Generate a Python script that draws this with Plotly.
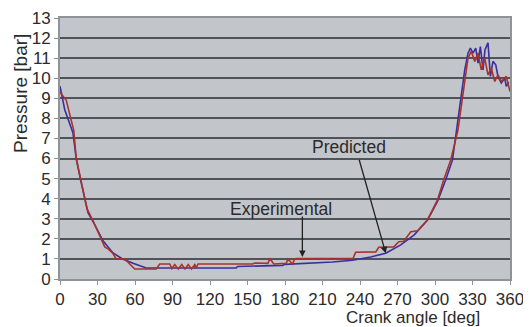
import plotly.graph_objects as go

# Predicted (blue)
pred_x = [0, 3.8, 10.4, 13, 16.6, 22.4, 27, 30, 34.4, 42.4, 50, 58.4, 69, 100, 141, 142,
          178, 180, 202, 218, 234, 248.6, 260.6, 272.6, 283.4, 294, 302, 308.6, 314,
          319.8, 323.8, 326.4, 328.3, 330.4, 332.6, 334.4, 336.3, 338.4, 340, 342.4,
          344.3, 346.4, 348.6, 350.4, 353, 355.8, 357, 359]
pred_y = [9.6, 8.43, 7.27, 6.0, 4.9, 3.3, 2.8, 2.4, 1.9, 1.3, 1.0, 0.78, 0.55, 0.55, 0.55, 0.62,
          0.68, 0.73, 0.78, 0.85, 0.93, 1.1, 1.28, 1.7, 2.2, 2.94, 3.86, 4.94, 5.93,
          8.76, 10.42, 11.25, 11.5, 11.25, 11.5, 10.75, 11.58, 10.42, 11.42, 11.76,
          10.09, 10.84, 10.67, 10.09, 9.76, 10.0, 9.59, 9.8]

# Experimental (red)
exp_x = [0, 5, 8.6, 11, 13, 16.6, 21.6, 26.4, 30, 33, 35.8, 38.4, 42, 45, 51.8, 55, 59.8,
         77, 79.8, 87.8, 89.5, 91.8, 94.6, 97.4, 100, 102.6, 105.2, 107.8, 109, 110.4,
         154, 156, 166.4, 167.8, 171, 181, 182.4, 186, 187.8, 189, 234.4, 236.5, 252.6,
         255, 267, 271, 275, 280.6, 286, 294, 302, 307, 312.6, 318.4, 323.8, 326.4, 329,
         331.8, 334.4, 337, 339.8, 342.4, 345, 347.8, 350.4, 353, 357, 360]
exp_y = [9.3, 8.9, 8.0, 7.4, 6.0, 4.9, 3.5, 2.9, 2.4, 2.0, 1.6, 1.5, 1.3, 1.0, 1.0, 0.8, 0.5,
         0.5, 0.75, 0.75, 0.52, 0.72, 0.5, 0.72, 0.5, 0.72, 0.5, 0.72, 0.55, 0.75,
         0.75, 0.8, 0.78, 1.03, 0.75, 0.78, 1.0, 0.75, 1.0, 1.02, 1.02, 1.33, 1.35,
         1.58, 1.6, 1.86, 1.88, 2.35, 2.4, 2.94, 3.94, 4.94, 5.93, 7.43, 9.93, 11.0, 11.34,
         10.84, 11.25, 10.42, 11.0, 10.17, 10.5, 9.84, 10.17, 9.84, 10.09, 9.34]

x_ticks = list(range(0, 361, 30))
y_ticks = list(range(0, 14))

FONT = "Liberation Sans, Arial, sans-serif"
TXT = "#2b2b2b"

fig = go.Figure()
fig.add_trace(go.Scatter(x=pred_x, y=pred_y, mode="lines", name="Predicted",
                         line=dict(color="#3b2f9e", width=1.6)))
fig.add_trace(go.Scatter(x=exp_x, y=exp_y, mode="lines", name="Experimental",
                         line=dict(color="#a8322e", width=1.6)))

# page body has an 8px margin: figure is 523x319 placed at (8, 8)
fig.update_layout(
    template="none",
    width=523, height=319,
    autosize=False,
    margin=dict(l=52, r=21, t=10, b=48, pad=0, autoexpand=False),
    paper_bgcolor="white",
    plot_bgcolor="#c2c5ca",
    showlegend=False,
    font=dict(family=FONT, size=17, color=TXT),
    xaxis=dict(range=[0, 360], tickvals=x_ticks, showgrid=False, zeroline=False,
               automargin=False,
               showline=True, linecolor="#8e9398", linewidth=2, mirror=True,
               ticks="outside", ticklen=4, tickcolor="#8e9398", tickwidth=1,
               tickfont=dict(size=17, color=TXT)),
    yaxis=dict(range=[0, 13], tickvals=y_ticks, showgrid=True, gridcolor="#4f5459",
               gridwidth=1.5, zeroline=False, automargin=False,
               showline=True, linecolor="#8e9398", linewidth=2, mirror=True,
               ticks="outside", ticklen=4, tickcolor="#8e9398", tickwidth=1,
               tickfont=dict(size=17, color=TXT)),
)

annotations = [
    dict(text="Crank angle [deg]", xref="paper", yref="paper", x=(413 - 60) / 450,
         y=(279 - 317) / 261, showarrow=False, font=dict(size=17, color=TXT),
         xanchor="center", yanchor="middle"),
    dict(text="Pressure [bar]", xref="paper", yref="paper", x=(20 - 60) / 450,
         y=(279 - 94) / 261, showarrow=False, textangle=-90,
         font=dict(size=19, color=TXT), xanchor="center", yanchor="middle"),
    dict(text="Experimental", xref="paper", yref="paper", x=(281 - 60) / 450,
         y=(279 - 209) / 261, showarrow=False, font=dict(size=17.5, color=TXT),
         xanchor="center", yanchor="middle"),
    dict(text="Predicted", xref="paper", yref="paper", x=(349 - 60) / 450,
         y=(279 - 147) / 261, showarrow=False, font=dict(size=17.5, color=TXT),
         xanchor="center", yanchor="middle"),
    dict(text="", x=193.9, y=1.1, xref="x", yref="y", showarrow=True, ax=0, ay=-42,
         arrowhead=2, arrowsize=1, arrowwidth=1.3, arrowcolor="#222222"),
    dict(text="", x=260.6, y=1.28, xref="x", yref="y", showarrow=True, ax=-27, ay=-95,
         arrowhead=2, arrowsize=1, arrowwidth=1.3, arrowcolor="#222222"),
]
fig.update_layout(annotations=annotations)

fig.write_html("out.html")
